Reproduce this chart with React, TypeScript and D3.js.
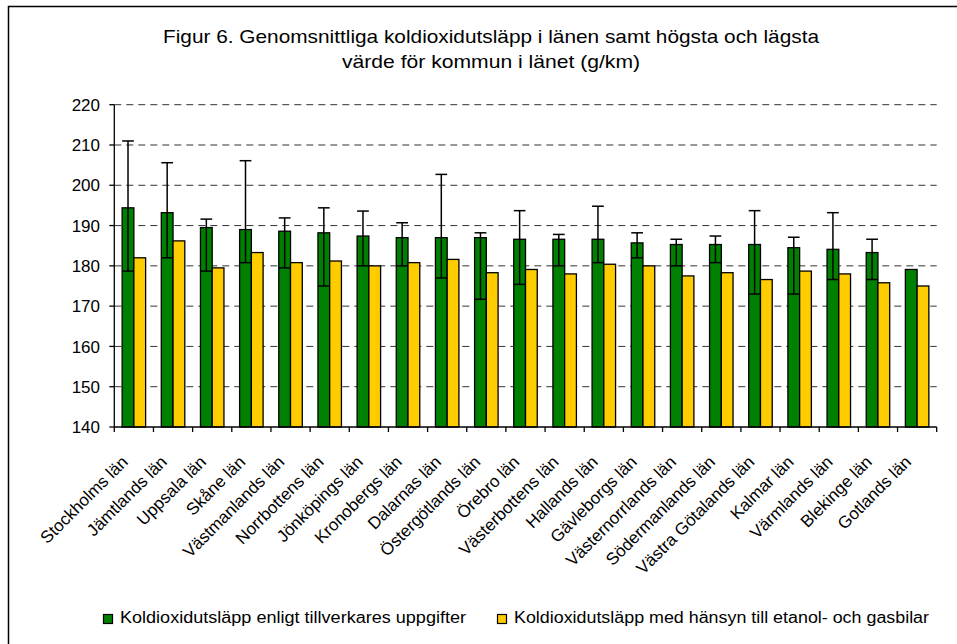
import React from "react";
import * as d3 from "d3";

const categories = [
  "Stockholms län", "Jämtlands län", "Uppsala län", "Skåne län", "Västmanlands län",
  "Norrbottens län", "Jönköpings län", "Kronobergs län", "Dalarnas län", "Östergötlands län",
  "Örebro län", "Västerbottens län", "Hallands län", "Gävleborgs län", "Västernorrlands län",
  "Södermanlands län", "Västra Götalands län", "Kalmar län", "Värmlands län", "Blekinge län",
  "Gotlands län",
];
const manufacturer = [194.4, 193.2, 189.5, 189.0, 188.6, 188.2, 187.4, 187.0, 187.0, 187.0, 186.6, 186.6, 186.6, 185.7, 185.3, 185.3, 185.3, 184.5, 184.1, 183.3, 179.1];
const adjusted = [182.0, 186.2, 179.5, 183.3, 180.8, 181.2, 180.0, 180.8, 181.6, 178.3, 179.1, 178.0, 180.4, 180.0, 177.5, 178.3, 176.6, 178.7, 178.0, 175.8, 175.0];
const highest = [211.0, 205.6, 191.6, 206.1, 191.9, 194.4, 193.6, 190.7, 202.7, 188.2, 193.7, 187.8, 194.8, 188.2, 186.6, 187.4, 193.7, 187.1, 193.2, 186.6, null];
const lowest = [178.7, 182.0, 178.7, 180.8, 179.5, 175.0, 180.0, 180.0, 177.0, 171.7, 175.4, 180.0, 180.8, 182.0, 180.0, 180.8, 173.0, 173.0, 176.6, 176.6, null];
const yTicks = [140, 150, 160, 170, 180, 190, 200, 210, 220];
const seriesNames = [
  "Koldioxidutsläpp enligt tillverkares uppgifter",
  "Koldioxidutsläpp med hänsyn till etanol- och gasbilar",
];
const titleLines = [
  "Figur 6.  Genomsnittliga koldioxidutsläpp i länen samt högsta och lägsta",
  "värde för kommun i länet (g/km)",
];

const GREEN = "#008000";
const YELLOW = "#FFCC00";
const FONT = "Arial, 'Liberation Sans', sans-serif";

export default function App() {
  const W = 957, H = 644;
  const left = 114.3, right = 936.7, top = 104.7, bottom = 427;
  const x = d3.scaleBand<string>().domain(categories).range([left, right]).paddingInner(0).paddingOuter(0);
  const inner = d3.scaleBand<string>().domain(["g", "y"]).range([0, x.bandwidth()]).paddingInner(0).paddingOuter(0.667);
  const y = d3.scaleLinear().domain([140, 220]).range([bottom, top]);
  const bw = inner.bandwidth();
  const boundaries = d3.range(categories.length + 1).map((i) => left + i * x.step());

  return (
    <svg width={W} height={H} style={{ position: "absolute", left: 0, top: 0, background: "#fff" }} fontFamily={FONT}>
      <rect x={0} y={0} width={W} height={H} fill="#fff" />
      <rect x={8.5} y={6.5} width={1200} height={900} fill="none" stroke="#000" strokeWidth={1.5} />
      {titleLines.map((t, i) => (
        <text key={i} x={491} y={i === 0 ? 43 : 68} textAnchor="middle" fontSize={19} fill="#000"
          textLength={i === 0 ? 656 : 298} lengthAdjust="spacingAndGlyphs">{t}</text>
      ))}
      {/* gridlines */}
      {yTicks.filter((v) => v !== 140).map((v) => (
        <line key={v} x1={left} x2={right} y1={y(v)} y2={y(v)} stroke="#333" strokeWidth={1} strokeDasharray="7,5" />
      ))}
      {/* bars */}
      {categories.map((c, i) => {
        const x0 = x(c)!;
        const gx = x0 + inner("g")!;
        const yx = x0 + inner("y")!;
        const hi = highest[i], lo = lowest[i];
        const cxg = gx + bw / 2;
        return (
          <g key={c}>
            <rect x={gx} y={y(manufacturer[i])} width={bw} height={bottom - y(manufacturer[i])} fill={GREEN} stroke="#000" strokeWidth={1.3} />
            <rect x={yx} y={y(adjusted[i])} width={bw} height={bottom - y(adjusted[i])} fill={YELLOW} stroke="#000" strokeWidth={1.3} />
            {hi != null && lo != null && (
              <g stroke="#000" strokeWidth={1.5}>
                <line x1={cxg} x2={cxg} y1={y(hi)} y2={y(lo)} />
                <line x1={gx} x2={gx + bw} y1={y(hi)} y2={y(hi)} />
                <line x1={gx} x2={gx + bw} y1={y(lo)} y2={y(lo)} />
              </g>
            )}
          </g>
        );
      })}
      {/* y axis */}
      <line x1={left} x2={left} y1={top} y2={bottom} stroke="#000" strokeWidth={1.3} />
      {yTicks.map((v) => (
        <g key={v}>
          <line x1={left - 5} x2={left} y1={y(v)} y2={y(v)} stroke="#000" strokeWidth={1.3} />
          <text x={100} y={y(v)} dy="0.36em" textAnchor="end" fontSize={17} fill="#000">{v}</text>
        </g>
      ))}
      {/* x axis */}
      <line x1={left} x2={right} y1={bottom} y2={bottom} stroke="#000" strokeWidth={1.3} />
      {boundaries.map((bx, i) => (
        <line key={i} x1={bx} x2={bx} y1={bottom} y2={bottom + 5} stroke="#000" strokeWidth={1.3} />
      ))}
      {categories.map((c) => {
        const cx = x(c)! + x.bandwidth() / 2;
        return (
          <text key={c} transform={`translate(${cx - 5},463) rotate(-45)`} textAnchor="end" fontSize={17} fill="#000">{c}</text>
        );
      })}
      {/* legend */}
      <rect x={103.5} y={614.5} width={9} height={9} fill={GREEN} stroke="#000" strokeWidth={1.2} />
      <text x={120} y={623} fontSize={16} fill="#000" textLength={346} lengthAdjust="spacingAndGlyphs">{seriesNames[0]}</text>
      <rect x={497.5} y={614.5} width={9} height={9} fill={YELLOW} stroke="#000" strokeWidth={1.2} />
      <text x={514} y={623} fontSize={16} fill="#000" textLength={415} lengthAdjust="spacingAndGlyphs">{seriesNames[1]}</text>
    </svg>
  );
}
